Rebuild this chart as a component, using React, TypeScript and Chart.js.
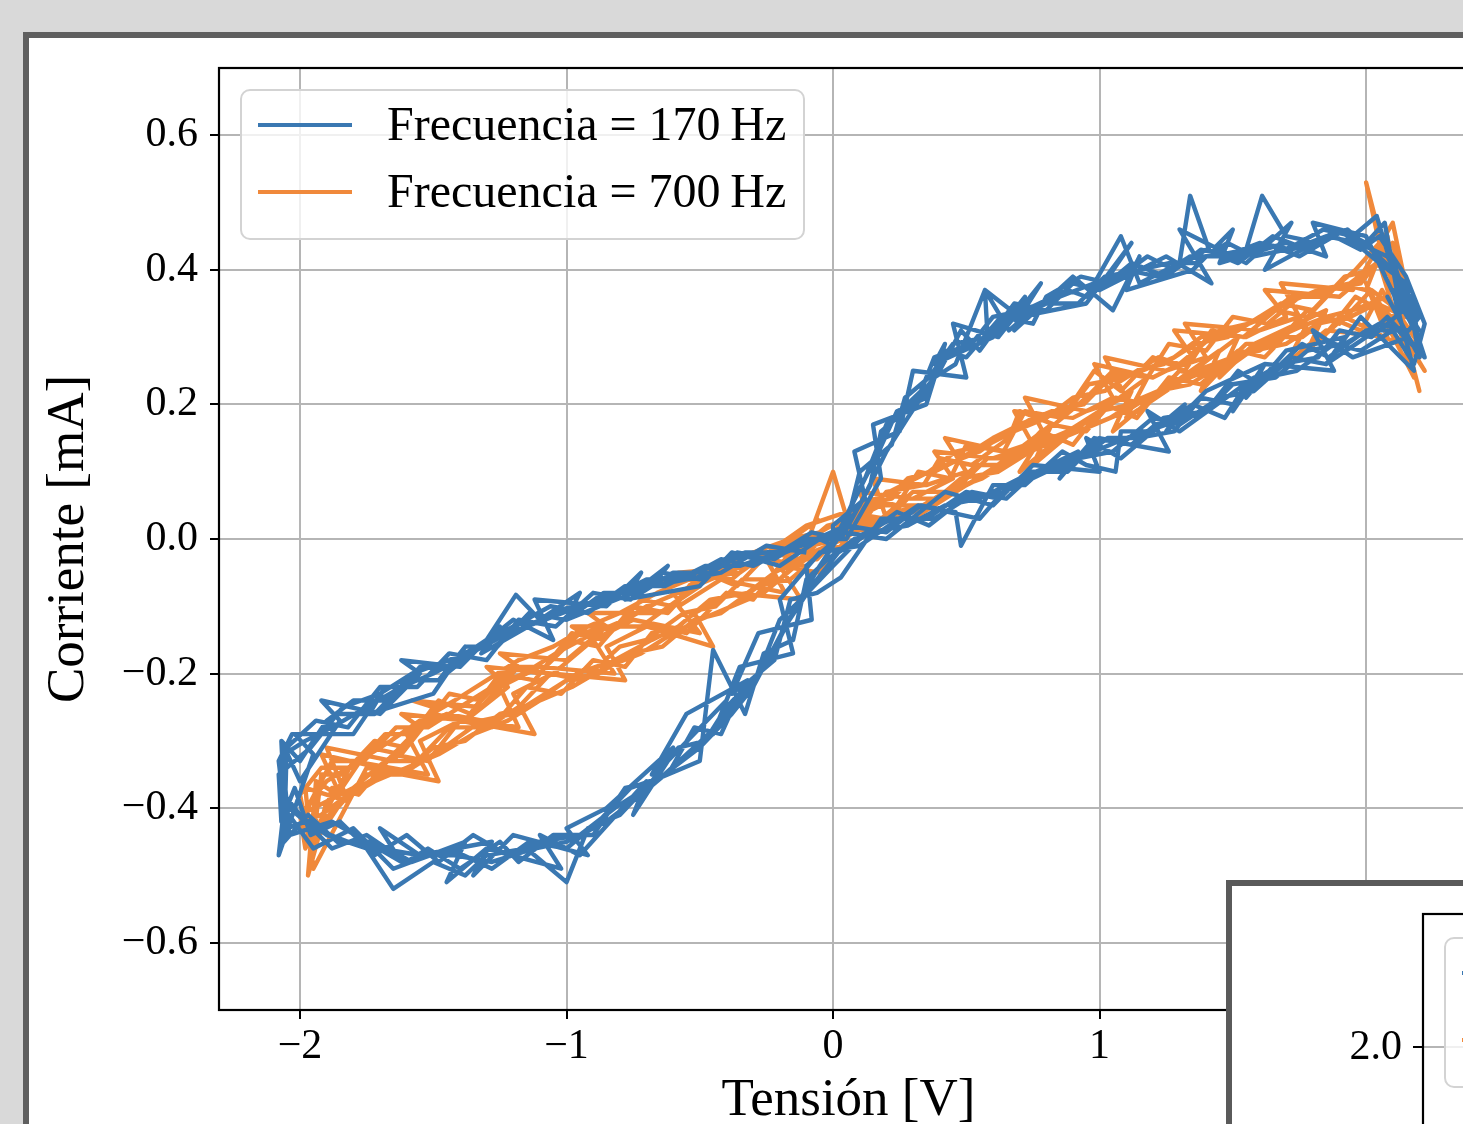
import React, { useEffect, useRef } from 'react';
import { Chart, registerables } from 'chart.js';

Chart.register(...registerables);

// ---- data ----
// Frecuencia = 170 Hz : tensión [V]
const voltage170 = [
  0.02, 0.12, 0.2, 0.33, 0.38, 0.52, 0.6, 0.72, 0.88, 0.95, 1.1, 1.22, 1.34, 1.47, 1.6, 1.72, 1.85, 1.97, 2.08, 2.15, 2.2,
  2.16, 2.05, 1.92, 1.78, 1.66, 1.5, 1.4, 1.25, 1.1, 0.98, 0.82, 0.7, 0.55, 0.42, 0.28, 0.14, 0.02,
  -0.08, -0.18, -0.3, -0.38, -0.5, -0.6, -0.72, -0.85, -1.0, -1.12, -1.28, -1.42, -1.55, -1.7, -1.82, -1.95, -2.04, -2.07,
  -2.06, -1.98, -1.88, -1.75, -1.62, -1.5, -1.36, -1.22, -1.08, -0.95, -0.8, -0.66, -0.52, -0.38, -0.25, -0.12,
  0.05, 0.1, 0.22, 0.27, 0.36, 0.45, 0.58, 0.57, 0.7, 0.85, 0.98, 1.08, 1.15, 1.3, 1.34, 1.42, 1.55, 1.61, 1.7, 1.82, 1.93, 2.02, 2.1, 2.18,
  2.2, 2.08, 2.0, 1.85, 1.72, 1.58, 1.45, 1.3, 1.2, 1.05, 0.92, 0.8, 0.64, 0.5, 0.38, 0.22, 0.08, -0.02,
  -0.1, -0.15, -0.26, -0.33, -0.45, -0.5, -0.68, -0.8, -0.92, -1.0, -1.15, -1.3, -1.38, -1.5, -1.65, -1.75, -1.9, -2.0, -2.06,
  -2.07, -2.0, -1.9, -1.8, -1.66, -1.55, -1.45, -1.3, -1.19, -1.1, -0.98, -0.85, -0.7, -0.56, -0.42, -0.3, -0.15, -0.05,
  0.0, 0.08, 0.16, 0.24, 0.35, 0.42, 0.5, 0.63, 0.75, 0.8, 0.93, 1.04, 1.18, 1.28, 1.4, 1.52, 1.65, 1.78, 1.9, 2.0, 2.07, 2.12, 2.2,
  2.14, 2.02, 1.9, 1.82, 1.68, 1.55, 1.47, 1.35, 1.2, 1.08, 1.06, 0.95, 0.86, 0.72, 0.6, 0.48, 0.46, 0.33, 0.2, 0.05,
  -0.05, -0.14, -0.24, -0.36, -0.44, -0.55, -0.66, -0.78, -0.9, -1.05, -1.18, -1.25, -1.4, -1.52, -1.6, -1.75, -1.88, -1.98, -2.05, -2.08,
  -2.03, -1.92, -1.84, -1.7, -1.58, -1.44, -1.33, -1.2, -1.06, -0.92, -0.78, -0.63, -0.48, -0.35, -0.2, -0.08,
  0.03, 0.14, 0.18, 0.3, 0.4, 0.48, 0.55, 0.68, 0.8, 0.9, 1.0, 1.12, 1.25, 1.38, 1.5, 1.62, 1.75, 1.88, 1.98, 2.05, 2.15, 2.22,
  2.18, 2.1, 1.98, 1.88, 1.74, 1.62, 1.5, 1.38, 1.28, 1.14, 1.03, 0.9, 0.76, 0.65, 0.52, 0.36, 0.24, 0.1, 0.0,
  -0.12, -0.2, -0.28, -0.4, -0.48, -0.58, -0.7, -0.82, -0.95, -1.1, -1.22, -1.35, -1.48, -1.6, -1.72, -1.85, -1.96, -2.02, -2.07,
  -2.08, -1.96, -1.86, -1.72, -1.6, -1.48, -1.38, -1.26, -1.14, -1.0, -0.86, -0.72, -0.6, -0.46, -0.33, -0.18, -0.06, 0.02,
  0.02, 0.1, 0.2, 0.28, 0.38, 0.46, 0.57, 0.66, 0.78, 0.92, 1.02, 1.15, 1.26, 1.36, 1.48, 1.58, 1.7, 1.84, 1.95, 2.04, 2.1, 2.2, 2.08, 2.22,
  2.12, 2.0, 1.86, 1.76, 1.6, 1.52, 1.4, 1.24, 1.12, 1.0, 0.88, 0.74, 0.62, 0.5, 0.35, 0.18, 0.03,
  -0.06, -0.16, -0.22, -0.34, -0.42, -0.52, -0.62, -0.76, -0.88, -1.0, -1.14, -1.28, -1.44, -1.58, -1.72, -1.86, -1.97, -2.06,
  -2.05, -1.94, -1.82, -1.7, -1.56, -1.44, -1.3, -1.18, -1.04, -0.9, -0.76, -0.64, -0.5, -0.36, -0.22, -0.1, 0.0,
  0.0, 0.12, 0.08, 0.25, 0.3, 0.5, 0.45, 0.62, 0.78, 0.7, 0.95, 1.12, 1.0, 1.25, 1.42, 1.3, 1.55, 1.72, 1.62, 1.9, 2.05, 2.15,
  2.2, 2.08, 2.16, 1.95, 1.8, 1.88, 1.62, 1.5, 1.58, 1.3, 1.18, 1.26, 0.98, 0.85, 0.92, 0.66, 0.55, 0.32, 0.1,
  -0.05, -0.2, -0.15, -0.35, -0.45, -0.4, -0.62, -0.75, -0.7, -0.95, -1.1, -1.02, -1.3, -1.45, -1.38, -1.65, -1.8, -1.95, -2.06,
  -2.08, -1.95, -2.02, -1.8, -1.68, -1.74, -1.5, -1.38, -1.45, -1.2, -1.05, -1.12, -0.85, -0.72, -0.78, -0.5, -0.38, -0.2, -0.05,
  0.05, 0.18, 0.15, 0.35, 0.42, 0.38, 0.6, 0.72, 0.68, 0.9, 1.05, 1.15, 1.1, 1.35, 1.5, 1.45, 1.7, 1.85, 1.8, 2.0, 2.12, 2.2,
  2.1, 2.18, 1.98, 1.85, 1.92, 1.7, 1.55, 1.62, 1.4, 1.25, 1.32, 1.08, 0.95, 1.0, 0.75, 0.6, 0.42, 0.2, 0.04,
  -0.1, -0.08, -0.28, -0.38, -0.32, -0.55, -0.68, -0.6, -0.85, -1.0, -0.92, -1.2, -1.35, -1.28, -1.55, -1.7, -1.62, -1.88, -2.04,
  -2.07, -2.0, -1.85, -1.92, -1.7, -1.55, -1.62, -1.4, -1.25, -1.32, -1.1, -0.95, -1.0, -0.75, -0.62, -0.68, -0.42, -0.25, -0.1,
];
// Frecuencia = 170 Hz : corriente [mA]
const current170 = [
  0.01, 0.09, 0.17, 0.22, 0.27, 0.29, 0.33, 0.34, 0.37, 0.36, 0.40, 0.39, 0.42, 0.42, 0.44, 0.43, 0.45, 0.44, 0.42, 0.37, 0.33,
  0.31, 0.32, 0.29, 0.28, 0.24, 0.23, 0.19, 0.17, 0.15, 0.13, 0.11, 0.09, 0.06, 0.05, 0.02, 0.01, -0.02,
  -0.07, -0.13, -0.22, -0.26, -0.31, -0.34, -0.38, -0.42, -0.45, -0.46, -0.48, -0.47, -0.47, -0.46, -0.45, -0.43, -0.40, -0.36,
  -0.32, -0.30, -0.28, -0.25, -0.22, -0.20, -0.17, -0.14, -0.12, -0.10, -0.08, -0.06, -0.05, -0.03, -0.02, -0.01,
  0.02, 0.10, 0.14, 0.21, 0.24, 0.29, 0.30, 0.37, 0.33, 0.36, 0.38, 0.45, 0.38, 0.41, 0.51, 0.42, 0.43, 0.51, 0.45, 0.44, 0.46, 0.43, 0.40, 0.34,
  0.28, 0.33, 0.30, 0.26, 0.27, 0.22, 0.21, 0.17, 0.18, 0.13, 0.12, 0.10, 0.07, 0.06, 0.03, 0.03, 0.0, -0.03,
  -0.06, -0.15, -0.17, -0.26, -0.165, -0.33, -0.36, -0.41, -0.43, -0.51, -0.46, -0.47, -0.50, -0.48, -0.52, -0.46, -0.44, -0.41, -0.38,
  -0.30, -0.33, -0.27, -0.24, -0.24, -0.19, -0.19, -0.15, -0.083, -0.12, -0.10, -0.09, -0.06, -0.06, -0.03, -0.04, -0.01, 0.0,
  -0.01, 0.06, 0.12, 0.19, 0.21, 0.28, 0.27, 0.33, 0.32, 0.36, 0.39, 0.38, 0.42, 0.40, 0.43, 0.41, 0.45, 0.43, 0.46, 0.44, 0.47, 0.36, 0.30,
  0.34, 0.30, 0.31, 0.27, 0.26, 0.23, 0.18, 0.20, 0.16, 0.16, 0.10, 0.11, 0.13, 0.08, 0.08, -0.01, 0.04, 0.05, 0.01, 0.02,
  -0.04, -0.10, -0.18, -0.24, -0.28, -0.32, -0.36, -0.37, -0.44, -0.44, -0.48, -0.45, -0.49, -0.46, -0.48, -0.44, -0.46, -0.42, -0.43, -0.33,
  -0.29, -0.29, -0.25, -0.23, -0.20, -0.18, -0.16, -0.13, -0.10, -0.11, -0.07, -0.07, -0.04, -0.04, -0.02, 0.01,
  0.0, 0.08, 0.16, 0.20, 0.25, 0.31, 0.28, 0.35, 0.34, 0.38, 0.37, 0.41, 0.39, 0.43, 0.42, 0.44, 0.42, 0.45, 0.43, 0.45, 0.39, 0.32,
  0.26, 0.31, 0.28, 0.29, 0.25, 0.24, 0.20, 0.21, 0.16, 0.15, 0.15, 0.11, 0.10, 0.06, 0.07, 0.02, 0.04, 0.0, -0.04,
  -0.09, -0.12, -0.20, -0.25, -0.30, -0.31, -0.37, -0.40, -0.44, -0.45, -0.47, -0.44, -0.48, -0.44, -0.47, -0.42, -0.44, -0.37, -0.42,
  -0.35, -0.31, -0.26, -0.26, -0.21, -0.21, -0.16, -0.16, -0.11, -0.12, -0.08, -0.08, -0.05, -0.05, -0.02, -0.02, 0.0, 0.01,
  0.0, 0.05, 0.13, 0.18, 0.24, 0.26, 0.37, 0.31, 0.35, 0.35, 0.39, 0.40, 0.41, 0.41, 0.44, 0.42, 0.43, 0.46, 0.45, 0.48, 0.40, 0.29, 0.44, 0.27,
  0.31, 0.31, 0.27, 0.29, 0.23, 0.25, 0.19, 0.18, 0.14, 0.15, 0.10, 0.10, 0.06, 0.07, 0.03, 0.03, -0.057,
  -0.08, -0.09, -0.18, -0.22, -0.29, -0.28, -0.35, -0.37, -0.42, -0.46, -0.45, -0.49, -0.46, -0.48, -0.45, -0.45, -0.41, -0.45,
  -0.31, -0.27, -0.28, -0.22, -0.22, -0.17, -0.18, -0.12, -0.13, -0.08, -0.09, -0.05, -0.06, -0.02, -0.03, 0.0, 0.0,
  0.02, 0.06, 0.13, 0.16, 0.25, 0.24, 0.32, 0.30, 0.38, 0.33, 0.35, 0.44, 0.37, 0.42, 0.38, 0.46, 0.41, 0.47, 0.40, 0.46, 0.41, 0.38,
  0.27, 0.36, 0.30, 0.27, 0.31, 0.25, 0.26, 0.19, 0.24, 0.16, 0.19, 0.13, 0.15, 0.09, 0.13, 0.08, 0.03, 0.05, -0.01,
  -0.02, -0.09, -0.17, -0.19, -0.29, -0.24, -0.33, -0.41, -0.36, -0.47, -0.44, -0.49, -0.46, -0.51, -0.45, -0.49, -0.43, -0.46, -0.40,
  -0.47, -0.32, -0.29, -0.29, -0.22, -0.26, -0.23, -0.16, -0.20, -0.12, -0.15, -0.09, -0.10, -0.05, -0.09, -0.07, -0.02, -0.04, 0.0,
  0.0, 0.09, 0.17, 0.20, 0.29, 0.26, 0.30, 0.36, 0.31, 0.39, 0.34, 0.42, 0.37, 0.40, 0.46, 0.41, 0.44, 0.42, 0.47, 0.45, 0.35, 0.31,
  0.37, 0.25, 0.33, 0.26, 0.30, 0.28, 0.21, 0.26, 0.22, 0.16, 0.20, 0.12, 0.15, 0.10, 0.11, 0.05, 0.07, 0.0, 0.01,
  -0.04, -0.12, -0.14, -0.23, -0.21, -0.26, -0.35, -0.31, -0.40, -0.43, -0.47, -0.44, -0.50, -0.45, -0.47, -0.43, -0.48, -0.42, -0.44,
  -0.30, -0.36, -0.27, -0.24, -0.26, -0.20, -0.18, -0.19, -0.13, -0.17, -0.12, -0.08, -0.12, -0.08, -0.04, -0.07, -0.05, -0.01, -0.02,
];
// Frecuencia = 700 Hz : tensión [V]
const voltage700 = [
  0.0, 0.1, 0.22, 0.3, 0.42, 0.55, 0.62, 0.75, 0.88, 0.96, 1.1, 1.22, 1.3, 1.45, 1.56, 1.68, 1.8, 1.92, 2.02, 2.1,
  2.18, 2.08, 1.95, 1.85, 1.72, 1.6, 1.5, 1.36, 1.25, 1.12, 1.0, 0.88, 0.76, 0.64, 0.5, 0.38, 0.25, 0.12,
  -0.02, -0.14, -0.26, -0.38, -0.5, -0.6, -0.72, -0.85, -0.98, -1.1, -1.22, -1.35, -1.48, -1.6, -1.72, -1.85, -1.95,
  -1.98, -1.9, -1.78, -1.66, -1.55, -1.42, -1.3, -1.18, -1.05, -0.92, -0.8, -0.66, -0.54, -0.42, -0.3, -0.16, -0.05,
  0.04, 0.12, 0.2, 0.34, 0.4, 0.52, 0.66, 0.7, 0.83, 0.95, 1.05, 1.18, 1.26, 1.4, 1.5, 1.63, 1.75, 1.86, 1.98, 2.06, 2.0,
  2.2, 2.12, 2.02, 1.9, 1.78, 1.66, 1.55, 1.42, 1.3, 1.18, 1.06, 0.95, 0.82, 0.7, 0.58, 0.45, 0.3, 0.18, 0.06,
  -0.06, -0.18, -0.3, -0.4, -0.55, -0.66, -0.78, -0.9, -1.02, -1.15, -1.28, -1.4, -1.52, -1.65, -1.78, -1.88, -1.97,
  -1.94, -1.86, -1.74, -1.62, -1.5, -1.38, -1.25, -1.12, -1.0, -0.88, -0.75, -0.62, -0.48, -0.36, -0.24, -0.12, 0.0,
  0.06, 0.16, 0.26, 0.36, 0.46, 0.58, 0.68, 0.8, 0.9, 1.02, 1.14, 1.24, 1.36, 1.48, 1.6, 1.7, 1.82, 1.94, 2.04, 2.12,
  2.15, 2.04, 1.94, 1.82, 1.7, 1.58, 1.46, 1.34, 1.22, 1.1, 0.98, 0.86, 0.74, 0.62, 0.48, 0.36, 0.22, 0.1,
  -0.04, -0.16, -0.28, -0.42, -0.52, -0.64, -0.76, -0.88, -1.0, -1.14, -1.25, -1.38, -1.5, -1.62, -1.75, -1.86, -1.96,
  -2.0, -1.92, -1.8, -1.68, -1.56, -1.44, -1.32, -1.2, -1.08, -0.95, -0.82, -0.7, -0.58, -0.44, -0.32, -0.2, -0.08,
  0.02, 0.14, 0.24, 0.32, 0.44, 0.5, 0.64, 0.72, 0.86, 0.98, 1.08, 1.2, 1.32, 1.42, 1.54, 1.66, 1.78, 1.9, 2.0, 2.08, 2.14,
  2.22, 2.1, 1.96, 1.84, 1.74, 1.62, 1.52, 1.38, 1.26, 1.14, 1.02, 0.9, 0.78, 0.66, 0.54, 0.4, 0.28, 0.15, 0.03,
  -0.1, -0.2, -0.34, -0.44, -0.56, -0.7, -0.8, -0.94, -1.06, -1.18, -1.3, -1.44, -1.56, -1.68, -1.8, -1.9, -1.96,
  -1.92, -1.84, -1.72, -1.6, -1.48, -1.36, -1.22, -1.1, -0.98, -0.86, -0.72, -0.6, -0.5, -0.38, -0.26, -0.14, -0.02,
  0.08, 0.18, 0.28, 0.38, 0.48, 0.6, 0.7, 0.82, 0.94, 1.04, 1.16, 1.28, 1.38, 1.5, 1.62, 1.72, 1.84, 1.96, 2.05, 2.15,
  2.2, 2.06, 1.98, 1.86, 1.76, 1.64, 1.5, 1.4, 1.28, 1.16, 1.04, 0.92, 0.8, 0.68, 0.56, 0.42, 0.3, 0.16, 0.04,
  -0.08, -0.22, -0.32, -0.46, -0.58, -0.68, -0.82, -0.96, -1.08, -1.2, -1.32, -1.46, -1.58, -1.7, -1.82, -1.92, -1.99,
  -1.96, -1.88, -1.76, -1.64, -1.52, -1.4, -1.28, -1.16, -1.04, -0.9, -0.78, -0.64, -0.52, -0.4, -0.28, -0.14, 0.0,
  0.0, 0.15, 0.1, 0.3, 0.45, 0.38, 0.6, 0.75, 0.68, 0.9, 1.05, 0.98, 1.2, 1.35, 1.28, 1.55, 1.7, 1.62, 1.9, 2.05,
  2.18, 2.0, 2.08, 1.85, 1.7, 1.78, 1.5, 1.38, 1.45, 1.2, 1.05, 1.12, 0.85, 0.7, 0.78, 0.5, 0.3, 0.1,
  -0.1, -0.25, -0.18, -0.42, -0.58, -0.5, -0.75, -0.9, -0.82, -1.1, -1.25, -1.18, -1.45, -1.6, -1.52, -1.8, -1.98,
  -2.0, -1.85, -1.92, -1.7, -1.55, -1.62, -1.38, -1.22, -1.3, -1.05, -0.9, -0.98, -0.72, -0.58, -0.65, -0.35, -0.1,
  0.05, 0.2, 0.15, 0.35, 0.5, 0.42, 0.65, 0.8, 0.72, 0.95, 1.1, 1.02, 1.25, 1.4, 1.32, 1.6, 1.75, 1.68, 1.95, 2.1,
  2.2, 2.05, 2.12, 1.92, 1.78, 1.85, 1.58, 1.45, 1.52, 1.25, 1.1, 1.18, 0.9, 0.75, 0.82, 0.55, 0.35, 0.15,
  -0.05, -0.2, -0.12, -0.38, -0.52, -0.45, -0.7, -0.85, -0.78, -1.05, -1.2, -1.12, -1.4, -1.55, -1.48, -1.75, -1.95,
  -1.98, -1.82, -1.9, -1.65, -1.5, -1.58, -1.32, -1.18, -1.25, -1.0, -0.85, -0.92, -0.65, -0.5, -0.58, -0.3, -0.05,
];
// Frecuencia = 700 Hz : corriente [mA]
const current700 = [
  0.01, 0.05, 0.06, 0.09, 0.11, 0.13, 0.15, 0.18, 0.19, 0.23, 0.24, 0.27, 0.26, 0.31, 0.32, 0.35, 0.34, 0.39, 0.40, 0.44,
  0.30, 0.36, 0.34, 0.33, 0.31, 0.28, 0.27, 0.25, 0.22, 0.20, 0.19, 0.16, 0.14, 0.11, 0.08, 0.06, 0.03, 0.02,
  -0.01, -0.04, -0.08, -0.10, -0.12, -0.14, -0.17, -0.19, -0.22, -0.24, -0.27, -0.29, -0.32, -0.34, -0.36, -0.39, -0.44,
  -0.40, -0.36, -0.33, -0.30, -0.27, -0.24, -0.21, -0.18, -0.16, -0.13, -0.11, -0.08, -0.06, -0.04, -0.02, 0.0, 0.01,
  0.03, 0.03, 0.07, 0.08, 0.12, 0.11, 0.15, 0.19, 0.17, 0.21, 0.25, 0.24, 0.29, 0.28, 0.33, 0.32, 0.36, 0.37, 0.38, 0.42, 0.53,
  0.22, 0.34, 0.37, 0.32, 0.34, 0.29, 0.29, 0.24, 0.25, 0.20, 0.21, 0.16, 0.17, 0.12, 0.12, 0.07, 0.07, 0.03, 0.02,
  -0.03, -0.03, -0.09, -0.08, -0.14, -0.13, -0.19, -0.18, -0.23, -0.22, -0.28, -0.27, -0.33, -0.32, -0.38, -0.37, -0.50,
  -0.36, -0.38, -0.31, -0.32, -0.26, -0.27, -0.20, -0.21, -0.15, -0.16, -0.10, -0.11, -0.05, -0.07, -0.02, -0.03, 0.10,
  0.02, 0.06, 0.08, 0.10, 0.13, 0.14, 0.16, 0.18, 0.21, 0.22, 0.25, 0.26, 0.29, 0.30, 0.33, 0.35, 0.37, 0.38, 0.41, 0.38,
  0.33, 0.35, 0.33, 0.32, 0.29, 0.28, 0.26, 0.23, 0.22, 0.19, 0.17, 0.15, 0.13, 0.10, 0.09, 0.05, 0.04, 0.0,
  -0.02, -0.06, -0.07, -0.11, -0.12, -0.16, -0.17, -0.20, -0.21, -0.25, -0.26, -0.30, -0.31, -0.35, -0.35, -0.40, -0.46,
  -0.38, -0.34, -0.34, -0.29, -0.29, -0.23, -0.24, -0.19, -0.19, -0.14, -0.13, -0.10, -0.08, -0.05, -0.04, -0.01, -0.01,
  0.0, 0.06, 0.05, 0.10, 0.09, 0.14, 0.13, 0.19, 0.18, 0.25, 0.22, 0.27, 0.25, 0.31, 0.30, 0.34, 0.33, 0.38, 0.37, 0.45, 0.30,
  0.25, 0.33, 0.36, 0.30, 0.32, 0.27, 0.28, 0.23, 0.24, 0.18, 0.20, 0.14, 0.16, 0.11, 0.11, 0.06, 0.06, 0.01, 0.02,
  -0.02, -0.06, -0.06, -0.10, -0.11, -0.15, -0.16, -0.21, -0.20, -0.25, -0.28, -0.28, -0.33, -0.33, -0.37, -0.39, -0.48,
  -0.35, -0.35, -0.30, -0.31, -0.24, -0.26, -0.19, -0.20, -0.14, -0.15, -0.09, -0.10, -0.05, -0.06, -0.02, -0.02, 0.02,
  0.03, 0.05, 0.09, 0.10, 0.12, 0.15, 0.17, 0.19, 0.20, 0.24, 0.25, 0.27, 0.30, 0.31, 0.33, 0.36, 0.36, 0.40, 0.44, 0.36,
  0.27, 0.37, 0.31, 0.33, 0.30, 0.30, 0.26, 0.25, 0.23, 0.21, 0.18, 0.16, 0.14, 0.12, 0.09, 0.07, 0.04, 0.03, 0.0,
  -0.02, -0.05, -0.08, -0.09, -0.13, -0.15, -0.18, -0.20, -0.23, -0.26, -0.27, -0.31, -0.34, -0.35, -0.38, -0.41, -0.42,
  -0.39, -0.33, -0.33, -0.28, -0.28, -0.25, -0.22, -0.20, -0.17, -0.14, -0.12, -0.09, -0.07, -0.05, -0.03, 0.0, 0.0,
  0.0, 0.02, 0.07, 0.06, 0.09, 0.13, 0.12, 0.14, 0.19, 0.18, 0.21, 0.26, 0.24, 0.27, 0.31, 0.30, 0.33, 0.37, 0.36, 0.41,
  0.24, 0.38, 0.30, 0.31, 0.26, 0.32, 0.27, 0.22, 0.28, 0.21, 0.16, 0.22, 0.15, 0.10, 0.15, 0.08, 0.03, 0.03,
  -0.04, -0.03, -0.08, -0.06, -0.10, -0.14, -0.12, -0.15, -0.20, -0.19, -0.22, -0.28, -0.26, -0.29, -0.35, -0.33, -0.46,
  -0.41, -0.38, -0.32, -0.34, -0.28, -0.26, -0.27, -0.22, -0.19, -0.20, -0.15, -0.13, -0.13, -0.09, -0.06, -0.05, 0.02,
  0.04, 0.03, 0.09, 0.08, 0.10, 0.15, 0.13, 0.15, 0.21, 0.19, 0.21, 0.27, 0.25, 0.27, 0.32, 0.31, 0.33, 0.38, 0.37, 0.47,
  0.28, 0.35, 0.29, 0.33, 0.28, 0.34, 0.29, 0.24, 0.30, 0.22, 0.18, 0.24, 0.16, 0.11, 0.17, 0.09, 0.05, 0.05,
  -0.05, -0.04, -0.09, -0.08, -0.11, -0.16, -0.13, -0.16, -0.21, -0.20, -0.23, -0.29, -0.27, -0.30, -0.36, -0.34, -0.49,
  -0.37, -0.39, -0.31, -0.33, -0.25, -0.24, -0.25, -0.19, -0.17, -0.18, -0.13, -0.11, -0.11, -0.07, -0.05, -0.04, 0.03,
];

const xTickValues = [-2, -1, 0, 1, 2];
const yTickValues = [-0.6, -0.4, -0.2, 0.0, 0.2, 0.4, 0.6];
const insetTickValues = [2.0];
const seriesLabels = ['Frecuencia = 170\u2009Hz', 'Frecuencia = 700\u2009Hz'];
const seriesColors = ['#3a78b2', '#f0893b'];
const xTitle = 'Tensión [V]';
const yTitle = 'Corriente [mA]';

const SERIF = '"Liberation Serif", "Times New Roman", serif';

const fmtMinus = (s: string) => s.replace('-', '\u2212');
const fmtInt = (v: number) => (Math.abs(v) < 1e-9 ? '0' : fmtMinus(String(Math.round(v))));
const fmtOne = (v: number) => (Math.abs(v) < 1e-9 ? '0.0' : fmtMinus(v.toFixed(1)));

const toPoints = (xs: number[], ys: number[]) => {
  const n = Math.min(xs.length, ys.length);
  const out: { x: number; y: number }[] = [];
  for (let k = 0; k < n; k++) out.push({ x: xs[k], y: ys[k] });
  return out;
};

// draws the four spines and a matplotlib-like framed legend inside the axes
const frameLegend: any = {
  id: 'frameLegend',
  afterDatasetsDraw(chart: any) {
    const { ctx, chartArea: a } = chart;
    ctx.save();
    ctx.strokeStyle = '#000';
    ctx.lineWidth = 2.2;
    ctx.strokeRect(a.left, a.top, a.right - a.left, a.bottom - a.top);
    ctx.restore();
  },
  afterDraw(chart: any, _args: any, opts: any) {
    const { ctx, chartArea: a } = chart;
    const x0 = a.left + (opts.dx ?? 22);
    const y0 = a.top + (opts.dy ?? 22);
    const w = 563;
    const h = 149;
    ctx.save();
    ctx.beginPath();
    ctx.roundRect(x0, y0, w, h, 9);
    ctx.fillStyle = 'rgba(255,255,255,0.8)';
    ctx.fill();
    ctx.lineWidth = 2;
    ctx.strokeStyle = '#d3d3d3';
    ctx.stroke();
    chart.data.datasets.forEach((ds: any, i: number) => {
      const y = y0 + 35 + i * 67;
      ctx.beginPath();
      ctx.moveTo(x0 + 17, y);
      ctx.lineTo(x0 + 111, y);
      ctx.strokeStyle = ds.borderColor;
      ctx.lineWidth = 4.2;
      ctx.stroke();
      ctx.fillStyle = '#000';
      ctx.font = `48px ${SERIF}`;
      ctx.textBaseline = 'middle';
      ctx.textAlign = 'left';
      ctx.fillText(ds.label, x0 + 146, y + 2);
    });
    ctx.restore();
  },
};

function MainChart() {
  const ref = useRef<HTMLCanvasElement | null>(null);
  useEffect(() => {
    if (!ref.current) return;
    const lineStyle = {
      showLine: true,
      borderWidth: 4.4,
      pointRadius: 0,
      pointHoverRadius: 0,
      borderJoinStyle: 'round',
    };
    const chart = new Chart(ref.current, {
      type: 'scatter',
      data: {
        datasets: [
          {
            label: seriesLabels[0],
            data: toPoints(voltage170, current170),
            borderColor: seriesColors[0],
            backgroundColor: seriesColors[0],
            ...lineStyle,
          },
          {
            label: seriesLabels[1],
            data: toPoints(voltage700, current700),
            borderColor: seriesColors[1],
            backgroundColor: seriesColors[1],
            ...lineStyle,
          },
        ],
      },
      options: {
        animation: false,
        responsive: false,
        events: [],
        layout: { padding: { top: 30, right: 31, bottom: 0, left: 0 } },
        plugins: {
          legend: { display: false },
          tooltip: { enabled: false },
          frameLegend: { dx: 22, dy: 22 },
        } as any,
        scales: {
          x: {
            type: 'linear',
            min: -2.304,
            max: 2.42,
            afterBuildTicks: (s: any) => {
              s.ticks = xTickValues.map((v) => ({ value: v }));
            },
            afterFit: (s: any) => {
              s.height = 128;
            },
            ticks: {
              callback: (v: any) => fmtInt(Number(v)),
              color: '#000',
              font: { family: SERIF, size: 42 },
              padding: 3,
              maxRotation: 0,
              autoSkip: false,
            },
            grid: {
              color: '#b5b5b5',
              lineWidth: 2,
              tickColor: '#000',
              tickLength: 9,
              tickWidth: 2,
            },
            border: { display: false },
            title: {
              display: true,
              text: xTitle,
              color: '#000',
              font: { family: SERIF, size: 53 },
              padding: { top: 0, bottom: 5 },
            },
          },
          y: {
            type: 'linear',
            min: -0.7,
            max: 0.7,
            afterBuildTicks: (s: any) => {
              s.ticks = yTickValues.map((v) => ({ value: v }));
            },
            afterFit: (s: any) => {
              s.width = 190;
            },
            ticks: {
              callback: (v: any) => fmtOne(Number(v)),
              color: '#000',
              font: { family: SERIF, size: 42, lineHeight: 0.8 },
              padding: 12,
              autoSkip: false,
            },
            grid: {
              color: '#b5b5b5',
              lineWidth: 2,
              tickColor: '#000',
              tickLength: 9,
              tickWidth: 2,
            },
            border: { display: false },
            title: {
              display: true,
              text: yTitle,
              color: '#000',
              font: { family: SERIF, size: 53 },
              padding: { top: 8, bottom: 0 },
            },
          },
        },
      },
      plugins: [frameLegend],
    } as any);
    return () => chart.destroy();
  }, []);
  return <canvas ref={ref} width={1480} height={1100} style={{ width: 1480, height: 1100, display: 'block' }} />;
}

function InsetChart() {
  const ref = useRef<HTMLCanvasElement | null>(null);
  useEffect(() => {
    if (!ref.current) return;
    const chart = new Chart(ref.current, {
      type: 'scatter',
      data: {
        datasets: [
          { label: seriesLabels[0], data: [], borderColor: seriesColors[0], showLine: true, pointRadius: 0 },
          { label: seriesLabels[1], data: [], borderColor: seriesColors[1], showLine: true, pointRadius: 0 },
        ],
      },
      options: {
        animation: false,
        responsive: false,
        events: [],
        layout: { padding: { top: 28, right: 0, bottom: 22, left: 0 } },
        plugins: {
          legend: { display: false },
          tooltip: { enabled: false },
          frameLegend: { dx: 22, dy: 24 },
        } as any,
        scales: {
          x: { type: 'linear', min: 0, max: 1, display: false },
          y: {
            type: 'linear',
            min: 1.2,
            max: 2.26,
            afterBuildTicks: (s: any) => {
              s.ticks = insetTickValues.map((v) => ({ value: v }));
            },
            afterFit: (s: any) => {
              s.width = 191;
            },
            ticks: {
              callback: (v: any) => fmtOne(Number(v)),
              color: '#000',
              font: { family: SERIF, size: 42, lineHeight: 0.8 },
              padding: 11,
            },
            grid: {
              color: '#b5b5b5',
              lineWidth: 2,
              tickColor: '#000',
              tickLength: 10,
              tickWidth: 2,
            },
            border: { display: false },
          },
        },
      },
      plugins: [frameLegend],
    } as any);
    return () => chart.destroy();
  }, []);
  return <canvas ref={ref} width={300} height={600} style={{ width: 300, height: 600, display: 'block' }} />;
}

export default function App() {
  return (
    <div
      style={{
        position: 'fixed',
        left: 0,
        top: 0,
        width: 1463,
        height: 1124,
        overflow: 'hidden',
        background: '#d9d9d9',
      }}
    >
      <div
        style={{
          position: 'absolute',
          left: 23,
          top: 32,
          width: 1700,
          height: 1300,
          boxSizing: 'border-box',
          border: '6px solid #5f5f5f',
          background: '#fff',
        }}
      />
      <div style={{ position: 'absolute', left: 29, top: 38 }}>
        <MainChart />
      </div>
      <div
        style={{
          position: 'absolute',
          left: 1226,
          top: 880,
          width: 800,
          height: 800,
          boxSizing: 'border-box',
          border: '6px solid #5a5a5a',
          background: '#fff',
        }}
      />
      <div style={{ position: 'absolute', left: 1232, top: 886 }}>
        <InsetChart />
      </div>
    </div>
  );
}
